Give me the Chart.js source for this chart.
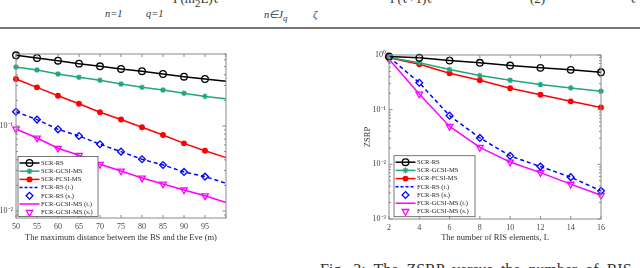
<!DOCTYPE html>
<html>
<head>
<meta charset="utf-8">
<script src="https://cdn.jsdelivr.net/npm/chart.js@4.4.0/dist/chart.umd.min.js"></script>
<style>
  body { margin: 0; width: 640px; height: 268px; overflow: hidden; background: #fff; position: relative; font-family: "Liberation Serif", serif; }
  .frag { position: absolute; color: #333; font-style: italic; white-space: nowrap; font-size: 10.5px; line-height: 11px; }
  .big { font-size: 13px; line-height: 13px; font-style: normal; }
  #rule { position: absolute; left: 0; top: 27px; width: 640px; height: 2px; background: #777; }
  #leftWrap { position: absolute; left: 0; top: 40px; width: 240px; height: 210px; }
  #rightWrap { position: absolute; left: 330px; top: 40px; width: 290px; height: 210px; }
  #caption { position: absolute; left: 320px; top: 262px; font-size: 16px; line-height: 16px; word-spacing: 4px; color: #333; white-space: nowrap; }
</style>
</head>
<body>
<div class="frag big" style="left:173px;top:-8px">Γ(m<sub>2</sub>L)ℓ</div>
<div class="frag" style="left:105px;top:8px">n=1</div>
<div class="frag" style="left:146px;top:8px">q=1</div>
<div class="frag" style="left:264px;top:9px">n∈J<sub>q</sub></div>
<div class="frag" style="left:313px;top:9px">ζ</div>
<div class="frag big" style="left:390px;top:-8px">Γ(ℓ+1)ℓ</div>
<div class="frag big" style="left:530px;top:-8px">(2)</div>
<div class="frag big" style="left:630px;top:-8px">ℓ</div>
<div id="rule"></div>
<div id="leftWrap"><canvas id="distChart"></canvas></div>
<div id="rightWrap"><canvas id="risChart"></canvas></div>
<div id="caption">Fig. 3: The ZSRP versus the number of RIS</div>

<script>
// left panel: ZSRP vs max BS-Eve distance (m)
const distances = [50, 55, 60, 65, 70, 75, 80, 85, 90, 95, 100];
const distMarks = [50, 55, 60, 65, 70, 75, 80, 85, 90, 95];
const scrRsDist = [0.679, 0.631, 0.586, 0.541, 0.504, 0.469, 0.441, 0.409, 0.380, 0.357, 0.336];
const scrGcsiDist = [0.494, 0.456, 0.409, 0.374, 0.345, 0.312, 0.285, 0.265, 0.243, 0.223, 0.209];
const scrFcsiDist = [0.357, 0.285, 0.227, 0.183, 0.145, 0.119, 0.0966, 0.0784, 0.0625, 0.0512, 0.0424];
const fcrRsDist = [0.147, 0.119, 0.0914, 0.0763, 0.061, 0.0499, 0.0406, 0.0348, 0.0288, 0.0254, 0.0212];
const fcrRsSimDist = [0.147, 0.119, 0.0914, 0.0763, 0.061, 0.0499, 0.0406, 0.0348, 0.0288, 0.0254];
const fcrGcsiDist = [0.0922, 0.0723, 0.0547, 0.0452, 0.0354, 0.0296, 0.0244, 0.0208, 0.0177, 0.0151, 0.0126];
const fcrGcsiSimDist = [0.0922, 0.0723, 0.0547, 0.0452, 0.0354, 0.0296, 0.0244, 0.0208, 0.0177, 0.0151];

// right panel: ZSRP vs number of RIS elements
const risSizes = [2, 4, 6, 8, 10, 12, 14, 16];
const scrRsRis = [0.94, 0.889, 0.79, 0.72, 0.641, 0.582, 0.535, 0.483];
const scrGcsiRis = [0.9, 0.72, 0.542, 0.421, 0.345, 0.288, 0.25, 0.217];
const scrFcsiRis = [0.889, 0.678, 0.463, 0.345, 0.246, 0.188, 0.142, 0.110];
const fcrRsRis = [0.92, 0.31, 0.0776, 0.0304, 0.0143, 0.0091, 0.00582, 0.00327];
const fcrGcsiRis = [0.838, 0.194, 0.0494, 0.0204, 0.011, 0.00705, 0.00434, 0.00272];

const seriesNames = ['SCR-RS', 'SCR-GCSI-MS', 'SCR-FCSI-MS', 'FCR-RS (t.)', 'FCR-RS (s.)', 'FCR-GCSI-MS (t.)', 'FCR-GCSI-MS (s.)'];
const distTitle = 'The maximum distance between the BS and the Eve (m)';
const risTitle = 'The number of RIS elements, L';

const styles = [
  { color: '#000000', marker: 'circle', size: 3.3 },
  { color: '#20a77b', marker: 'star', size: 2.8 },
  { color: '#ff0000', marker: 'circle', size: 2.3, fill: '#ff0000' },
  { color: '#0000ff', dash: [4, 3] },
  { color: '#0000ff', marker: 'rectRot', size: 3.4, line: false },
  { color: '#ff00ff' },
  { color: '#ff00ff', marker: 'triangle', size: 3.8, rot: 180, line: false }
];

function series(i, xs, ys, markMax) {
  const st = styles[i];
  return {
    label: seriesNames[i],
    data: ys.map((y, k) => ({ x: xs[k], y: y })),
    borderColor: st.color,
    backgroundColor: 'rgba(0,0,0,0)',
    borderWidth: 1.5,
    borderDash: st.dash || [],
    showLine: st.line !== false,
    pointStyle: st.marker || 'circle',
    pointRadius: c => (st.marker && (!markMax || (c.raw && c.raw.x <= markMax))) ? st.size : 0,
    pointHoverRadius: 0,
    pointRotation: st.rot || 0,
    pointBorderColor: st.color,
    pointBackgroundColor: st.fill || 'rgba(0,0,0,0)',
    pointBorderWidth: 1.3,
    tension: 0,
    clip: false,
    _style: st
  };
}

const supMap = { '-': '⁻', '0': '⁰', '1': '¹', '2': '²', '3': '³', '4': '⁴' };
function powTen(v) {
  const e = Math.log10(v);
  if (Math.abs(e - Math.round(e)) > 1e-6) return '';
  return '10' + String(Math.round(e)).split('').map(ch => supMap[ch]).join('');
}

// MATLAB style box with inward ticks
const matlabFrame = {
  id: 'matlabFrame',
  afterDatasetsDraw(chart) {
    const { ctx, chartArea: a, scales } = chart;
    const x = scales.x, y = scales.y;
    ctx.save();
    ctx.strokeStyle = '#8a8a8a';
    ctx.lineWidth = 1;
    ctx.strokeRect(a.left, a.top, a.right - a.left, a.bottom - a.top);
    ctx.beginPath();
    x.ticks.forEach(t => {
      const px = x.getPixelForValue(t.value);
      ctx.moveTo(px, a.bottom); ctx.lineTo(px, a.bottom - 3);
      ctx.moveTo(px, a.top); ctx.lineTo(px, a.top + 3);
    });
    const lo = Math.floor(Math.log10(y.min)), hi = Math.ceil(Math.log10(y.max));
    for (let e = lo; e <= hi; e++) {
      for (let m = 1; m < 10; m++) {
        const v = m * Math.pow(10, e);
        if (v < y.min * 0.999 || v > y.max * 1.001) continue;
        const py = y.getPixelForValue(v);
        const len = m === 1 ? 3.5 : 2;
        ctx.moveTo(a.left, py); ctx.lineTo(a.left + len, py);
        ctx.moveTo(a.right, py); ctx.lineTo(a.right - len, py);
      }
    }
    ctx.stroke();
    ctx.restore();
  }
};

// legend box in the lower left of the plot, line sample + marker + text
const boxLegend = {
  id: 'boxLegend',
  afterDraw(chart, args, opts) {
    const { ctx, chartArea } = chart;
    const x0 = chartArea.left + opts.dx;
    const y0 = chartArea.bottom - opts.dy - opts.h;
    ctx.save();
    ctx.fillStyle = '#fff';
    ctx.fillRect(x0, y0, opts.w, opts.h);
    ctx.strokeStyle = '#555';
    ctx.lineWidth = 0.8;
    ctx.strokeRect(x0, y0, opts.w, opts.h);
    ctx.font = '6.6px "Liberation Serif"';
    ctx.textBaseline = 'middle';
    chart.data.datasets.forEach((ds, i) => {
      const st = ds._style;
      const yy = y0 + opts.first + i * opts.row;
      if (st.line !== false) {
        ctx.save();
        ctx.strokeStyle = st.color;
        ctx.lineWidth = 1.5;
        ctx.setLineDash(st.dash ? [3, 2] : []);
        ctx.beginPath();
        ctx.moveTo(x0 + 1.5, yy);
        ctx.lineTo(x0 + 21.5, yy);
        ctx.stroke();
        ctx.restore();
      }
      if (st.marker) {
        ctx.save();
        ctx.strokeStyle = st.color;
        ctx.fillStyle = st.fill || 'rgba(0,0,0,0)';
        ctx.lineWidth = 1.3;
        Chart.helpers.drawPoint(ctx, { pointStyle: st.marker, radius: st.size, rotation: st.rot || 0, borderWidth: 1.3 }, x0 + 11.5, yy);
        ctx.restore();
      }
      ctx.fillStyle = '#222';
      ctx.fillText(ds.label, x0 + 23, yy);
    });
    ctx.restore();
  }
};

function makeOptions(cfg) {
  return {
    responsive: true,
    maintainAspectRatio: false,
    animation: false,
    events: [],
    layout: { padding: cfg.padding },
    plugins: {
      legend: { display: false },
      tooltip: { enabled: false },
      boxLegend: cfg.legend
    },
    scales: {
      x: {
        type: 'linear',
        min: cfg.xMin, max: cfg.xMax,
        grid: { display: false, drawTicks: false },
        border: { display: false },
        ticks: {
          stepSize: cfg.xStep,
          autoSkip: false,
          maxRotation: 0,
          padding: 4,
          color: '#444',
          font: { family: 'Liberation Serif', size: 8 },
          callback: cfg.xLabel
        },
        title: {
          display: true,
          text: cfg.xTitle,
          color: '#333',
          padding: { top: 0, bottom: 7 },
          font: { family: 'Liberation Serif', size: 8.5 }
        },
        afterFit: s => { s.height = cfg.xHeight; }
      },
      y: {
        type: 'logarithmic',
        min: cfg.yMin, max: cfg.yMax,
        grid: { display: false, drawTicks: false },
        border: { display: false },
        ticks: {
          autoSkip: false,
          padding: 3,
          color: '#444',
          font: { family: 'Liberation Serif', size: 8 },
          callback: v => powTen(v)
        },
        title: {
          display: !!cfg.yTitle,
          text: cfg.yTitle || '',
          color: '#333',
          padding: { top: 3, bottom: 0 },
          font: { family: 'Liberation Serif', size: 8.5 }
        },
        afterFit: s => { s.width = cfg.yWidth; }
      }
    }
  };
}

new Chart(document.getElementById('distChart'), {
  type: 'line',
  data: {
    datasets: [
      series(0, distances, scrRsDist, 95),
      series(1, distances, scrGcsiDist, 95),
      series(2, distances, scrFcsiDist, 95),
      series(3, distances, fcrRsDist),
      series(4, distMarks, fcrRsSimDist),
      series(5, distances, fcrGcsiDist),
      series(6, distMarks, fcrGcsiSimDist)
    ]
  },
  options: makeOptions({
    padding: { left: 0, top: 14, right: 14, bottom: 0 },
    xMin: 50, xMax: 100, xStep: 5,
    xLabel: v => (v >= 100 ? '' : String(v)),
    xTitle: distTitle,
    xHeight: 32,
    yMin: 0.00827, yMax: 0.703,
    yWidth: 16,
    legend: { dx: 2, dy: 1.5, w: 80, h: 60, first: 6.5, row: 8.2 }
  }),
  plugins: [matlabFrame, boxLegend]
});

new Chart(document.getElementById('risChart'), {
  type: 'line',
  data: {
    datasets: [
      series(0, risSizes, scrRsRis),
      series(1, risSizes, scrGcsiRis),
      series(2, risSizes, scrFcsiRis),
      series(3, risSizes, fcrRsRis),
      series(4, risSizes, fcrRsRis),
      series(5, risSizes, fcrGcsiRis),
      series(6, risSizes, fcrGcsiRis)
    ]
  },
  options: makeOptions({
    padding: { left: 30, top: 15, right: 19, bottom: 0 },
    xMin: 2, xMax: 16, xStep: 2,
    xLabel: v => String(v),
    xTitle: risTitle,
    xHeight: 31,
    yMin: 0.001, yMax: 1,
    yTitle: 'ZSRP',
    yWidth: 29,
    legend: { dx: 5, dy: 2.3, w: 81, h: 61, first: 6.5, row: 8.2 }
  }),
  plugins: [matlabFrame, boxLegend]
});
</script>
</body>
</html>
